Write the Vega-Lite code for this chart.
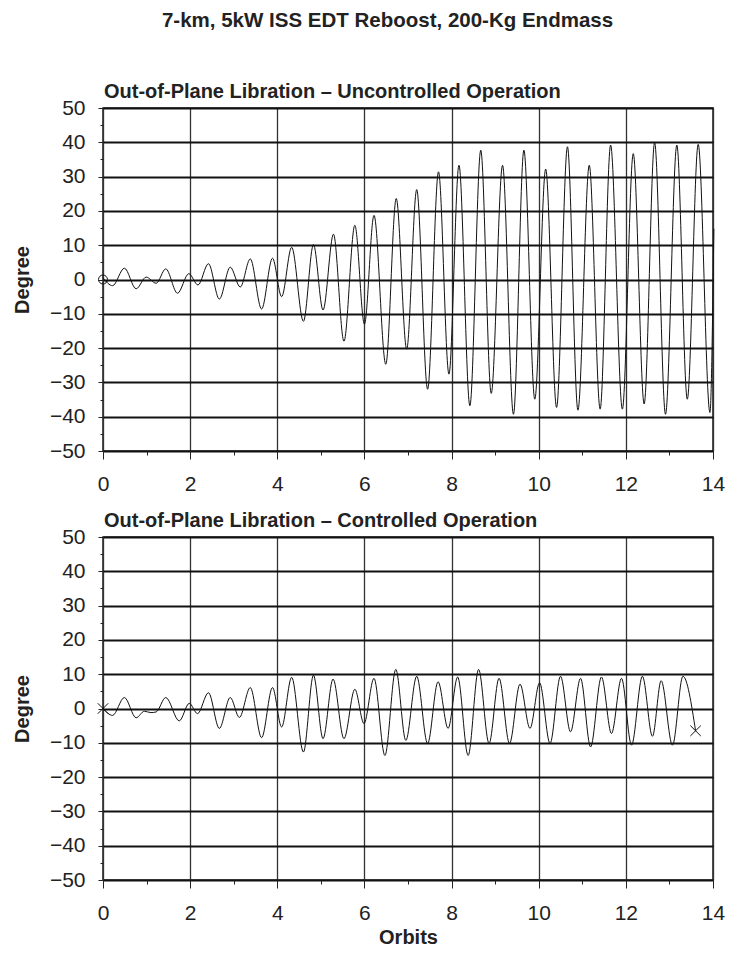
{
  "$schema": "https://vega.github.io/schema/vega-lite/v6.json",
  "background": "white",
  "padding": {"left": 11, "top": 10, "right": 8, "bottom": 10},
  "bounds": "flush",
  "spacing": 86,
  "title": {
    "text": "7-km, 5kW ISS EDT Reboost, 200-Kg Endmass",
    "font": "Liberation Sans",
    "fontSize": 20.5,
    "fontWeight": "bold",
    "color": "#222",
    "anchor": "middle",
    "dx": 19,
    "offset": 50
  },
  "config": {
    "view": {"stroke": "#1a1a1a", "strokeWidth": 1.5},
    "title": {"font": "Liberation Sans", "fontSize": 20, "fontWeight": "bold", "color": "#222"},
    "axis": {
      "labelFont": "Liberation Sans",
      "labelFontSize": 21,
      "labelColor": "#222",
      "labelFlush": false,
      "titleFont": "Liberation Sans",
      "titleFontSize": 20,
      "titleFontWeight": "bold",
      "titleColor": "#222",
      "tickColor": "#222",
      "domain": false
    }
  },
  "vconcat": [
    {
      "width": 610,
      "height": 343,
      "title": {"text": "Out-of-Plane Libration – Uncontrolled Operation", "anchor": "start", "frame": "group", "offset": -5, "dx": 1},
      "resolve": {"axis": {"x": "independent", "y": "independent"}},
      "layer": [
        {
          "data": {"values": [
            {"orbit": 0.0, "deg": 0.5}, {"orbit": 0.22, "deg": -1.8}, {"orbit": 0.49, "deg": 3.3}, {"orbit": 0.76, "deg": -2.7},
            {"orbit": 0.99, "deg": 0.7}, {"orbit": 1.22, "deg": -1.1}, {"orbit": 1.44, "deg": 3.1}, {"orbit": 1.71, "deg": -4.0},
            {"orbit": 1.97, "deg": 1.7}, {"orbit": 2.18, "deg": -1.6}, {"orbit": 2.42, "deg": 4.6}, {"orbit": 2.67, "deg": -5.7},
            {"orbit": 2.92, "deg": 3.6}, {"orbit": 3.15, "deg": -2.2}, {"orbit": 3.38, "deg": 6.0}, {"orbit": 3.64, "deg": -8.6},
            {"orbit": 3.89, "deg": 6.2}, {"orbit": 4.1, "deg": -5.0}, {"orbit": 4.33, "deg": 9.4}, {"orbit": 4.6, "deg": -12.2},
            {"orbit": 4.83, "deg": 10.2}, {"orbit": 5.05, "deg": -8.9}, {"orbit": 5.29, "deg": 13.2}, {"orbit": 5.53, "deg": -18.0},
            {"orbit": 5.78, "deg": 15.8}, {"orbit": 6.0, "deg": -13.0}, {"orbit": 6.22, "deg": 18.7}, {"orbit": 6.49, "deg": -24.7},
            {"orbit": 6.73, "deg": 23.6}, {"orbit": 6.97, "deg": -20.3}, {"orbit": 7.2, "deg": 26.2}, {"orbit": 7.45, "deg": -32.0},
            {"orbit": 7.7, "deg": 31.4}, {"orbit": 7.94, "deg": -27.6}, {"orbit": 8.17, "deg": 33.3}, {"orbit": 8.42, "deg": -36.8},
            {"orbit": 8.67, "deg": 37.7}, {"orbit": 8.91, "deg": -33.2}, {"orbit": 9.17, "deg": 33.3}, {"orbit": 9.42, "deg": -39.3},
            {"orbit": 9.66, "deg": 37.7}, {"orbit": 9.91, "deg": -34.9}, {"orbit": 10.16, "deg": 32.2}, {"orbit": 10.41, "deg": -37.3},
            {"orbit": 10.66, "deg": 38.7}, {"orbit": 10.9, "deg": -38.1}, {"orbit": 11.16, "deg": 33.3}, {"orbit": 11.41, "deg": -37.8},
            {"orbit": 11.65, "deg": 39.2}, {"orbit": 11.92, "deg": -37.8}, {"orbit": 12.17, "deg": 36.7}, {"orbit": 12.42, "deg": -36.3},
            {"orbit": 12.66, "deg": 39.9}, {"orbit": 12.91, "deg": -39.3}, {"orbit": 13.17, "deg": 39.2}, {"orbit": 13.41, "deg": -34.9},
            {"orbit": 13.66, "deg": 39.4}, {"orbit": 13.93, "deg": -38.8}, {"orbit": 14.02, "deg": 14.8}
          ]},
          "mark": {"type": "line", "interpolate": "monotone", "color": "#111", "strokeWidth": 1, "clip": false},
          "encoding": {
            "x": {"field": "orbit", "type": "quantitative", "scale": {"domain": [0, 14], "nice": false, "zero": false},
              "axis": {"values": [0, 2, 4, 6, 8, 10, 12, 14], "title": null, "grid": true, "gridColor": "#333", "gridWidth": 1.3, "tickSize": 8, "labelPadding": 14}},
            "y": {"field": "deg", "type": "quantitative", "scale": {"domain": [-50, 50], "nice": false},
              "axis": {"values": [-50, -40, -30, -20, -10, 0, 10, 20, 30, 40, 50], "title": "Degree", "titlePadding": 17, "grid": true, "gridColor": "#111", "gridWidth": 2, "tickSize": 5, "labelPadding": 13}}
          }
        },
        {
          "data": {"values": [{"orbit": 0, "deg": 0}]},
          "mark": {"type": "point", "shape": "circle", "size": 80, "filled": false, "color": "#111", "strokeWidth": 1, "opacity": 1, "clip": false},
          "encoding": {
            "x": {"field": "orbit", "type": "quantitative",
              "axis": {"orient": "bottom", "values": [1, 3, 5, 7, 9, 11, 13], "labels": false, "title": null, "grid": false, "tickSize": 4}},
            "y": {"field": "deg", "type": "quantitative",
              "axis": {"orient": "left", "values": [-45, -35, -25, -15, -5, 5, 15, 25, 35, 45], "labels": false, "title": null, "grid": false, "tickSize": 3}}
          }
        }
      ]
    },
    {
      "width": 610,
      "height": 343,
      "title": {"text": "Out-of-Plane Libration – Controlled Operation", "anchor": "start", "frame": "group", "offset": -5, "dx": 1},
      "resolve": {"axis": {"x": "independent", "y": "independent"}},
      "layer": [
        {
          "data": {"values": [
            {"orbit": 0.0, "deg": 0.0}, {"orbit": 0.22, "deg": -2.0}, {"orbit": 0.49, "deg": 3.2}, {"orbit": 0.76, "deg": -2.7},
            {"orbit": 0.95, "deg": -0.8}, {"orbit": 1.1, "deg": -1.2}, {"orbit": 1.22, "deg": -1.0}, {"orbit": 1.44, "deg": 3.2},
            {"orbit": 1.75, "deg": -3.6}, {"orbit": 1.98, "deg": 1.5}, {"orbit": 2.17, "deg": -1.5}, {"orbit": 2.42, "deg": 4.6},
            {"orbit": 2.67, "deg": -5.8}, {"orbit": 2.92, "deg": 3.2}, {"orbit": 3.13, "deg": -2.6}, {"orbit": 3.38, "deg": 6.1},
            {"orbit": 3.64, "deg": -8.5}, {"orbit": 3.89, "deg": 6.1}, {"orbit": 4.1, "deg": -5.4}, {"orbit": 4.33, "deg": 9.1},
            {"orbit": 4.6, "deg": -12.7}, {"orbit": 4.83, "deg": 9.7}, {"orbit": 5.05, "deg": -8.8}, {"orbit": 5.28, "deg": 8.6},
            {"orbit": 5.53, "deg": -8.8}, {"orbit": 5.78, "deg": 5.6}, {"orbit": 5.99, "deg": -4.4}, {"orbit": 6.22, "deg": 8.8},
            {"orbit": 6.47, "deg": -13.7}, {"orbit": 6.72, "deg": 11.4}, {"orbit": 6.95, "deg": -9.3}, {"orbit": 7.2, "deg": 9.4},
            {"orbit": 7.45, "deg": -10.2}, {"orbit": 7.69, "deg": 7.8}, {"orbit": 7.92, "deg": -5.8}, {"orbit": 8.14, "deg": 9.2},
            {"orbit": 8.38, "deg": -13.7}, {"orbit": 8.62, "deg": 11.4}, {"orbit": 8.86, "deg": -10.2}, {"orbit": 9.09, "deg": 8.8},
            {"orbit": 9.33, "deg": -10.2}, {"orbit": 9.57, "deg": 7.1}, {"orbit": 9.8, "deg": -5.8}, {"orbit": 10.02, "deg": 7.5},
            {"orbit": 10.26, "deg": -10.2}, {"orbit": 10.5, "deg": 9.4}, {"orbit": 10.73, "deg": -6.8}, {"orbit": 10.96, "deg": 8.8},
            {"orbit": 11.19, "deg": -11.2}, {"orbit": 11.44, "deg": 9.2}, {"orbit": 11.67, "deg": -7.3}, {"orbit": 11.9, "deg": 8.8},
            {"orbit": 12.13, "deg": -10.7}, {"orbit": 12.38, "deg": 9.4}, {"orbit": 12.61, "deg": -8.1}, {"orbit": 12.81, "deg": 8.1},
            {"orbit": 13.07, "deg": -10.7}, {"orbit": 13.31, "deg": 9.4}, {"orbit": 13.6, "deg": -6.5}
          ]},
          "mark": {"type": "line", "interpolate": "monotone", "color": "#111", "strokeWidth": 1, "clip": false},
          "encoding": {
            "x": {"field": "orbit", "type": "quantitative", "scale": {"domain": [0, 14], "nice": false, "zero": false},
              "axis": {"values": [0, 2, 4, 6, 8, 10, 12, 14], "title": "Orbits", "titlePadding": 4, "grid": true, "gridColor": "#333", "gridWidth": 1.3, "tickSize": 8, "labelPadding": 14}},
            "y": {"field": "deg", "type": "quantitative", "scale": {"domain": [-50, 50], "nice": false},
              "axis": {"values": [-50, -40, -30, -20, -10, 0, 10, 20, 30, 40, 50], "title": "Degree", "titlePadding": 17, "grid": true, "gridColor": "#111", "gridWidth": 2, "tickSize": 5, "labelPadding": 13}}
          }
        },
        {
          "data": {"values": [{"orbit": 0, "deg": 0}, {"orbit": 13.6, "deg": -6.5}]},
          "mark": {"type": "point", "shape": "M-1,-1L1,1M-1,1L1,-1", "size": 110, "filled": false, "color": "#111", "strokeWidth": 1, "opacity": 1, "clip": false},
          "encoding": {
            "x": {"field": "orbit", "type": "quantitative",
              "axis": {"orient": "bottom", "values": [1, 3, 5, 7, 9, 11, 13], "labels": false, "title": null, "grid": false, "tickSize": 4}},
            "y": {"field": "deg", "type": "quantitative",
              "axis": {"orient": "left", "values": [-45, -35, -25, -15, -5, 5, 15, 25, 35, 45], "labels": false, "title": null, "grid": false, "tickSize": 3}}
          }
        }
      ]
    }
  ]
}
